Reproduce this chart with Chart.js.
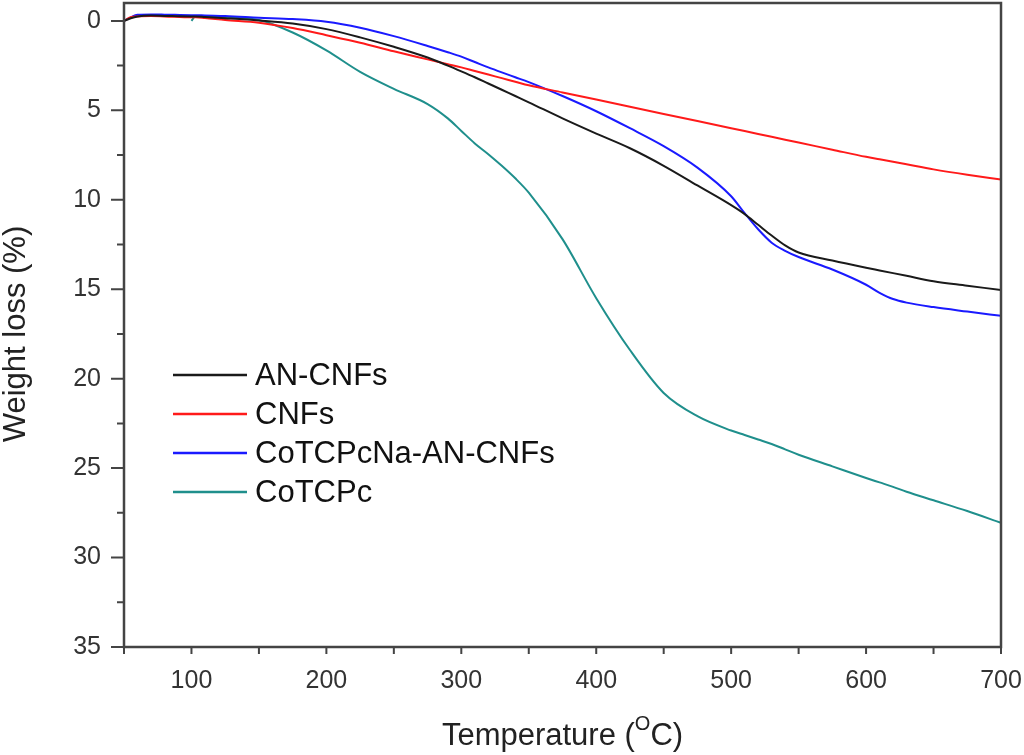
<!DOCTYPE html>
<html lang="en">
<head>
    <meta charset="UTF-8">
    <title>TGA Weight Loss</title>
    <script src="https://cdn.jsdelivr.net/npm/chart.js"></script>
    <style>
        html, body { margin: 0; padding: 0; background: #fff; }
        #wrap { width: 1024px; height: 755px; }
    </style>
</head>
<body>
    <div id="wrap"><canvas id="tga"></canvas></div>

    <script>
        // temperature samples (°C), shared by all curves
        const temps = [50, 55, 60, 70, 80, 100, 103, 110, 125, 150, 175, 200, 225, 250, 275, 290, 300, 310, 320, 330, 340, 350, 375, 400, 425, 450, 475, 500, 510, 520, 530, 540, 550, 575, 600, 610, 620, 630, 650, 675, 700];

        // weight loss (%)
        const anCnfs = [0, -0.15, -0.25, -0.3, -0.28, -0.25, -0.25, -0.22, -0.15, -0.02, 0.15, 0.46, 0.92, 1.45, 2.05, 2.5, 2.82, 3.15, 3.5, 3.85, 4.2, 4.55, 5.45, 6.3, 7.12, 8.1, 9.2, 10.3, 10.8, 11.4, 12.0, 12.55, 12.95, 13.4, 13.8, 13.95, 14.1, 14.25, 14.55, 14.8, 15.05];
        const cnfs = [0, -0.2, -0.25, -0.27, -0.25, -0.2, -0.2, -0.16, -0.05, 0.1, 0.4, 0.8, 1.22, 1.7, 2.15, 2.42, 2.6, 2.8, 3.0, 3.2, 3.4, 3.6, 4.0, 4.4, 4.8, 5.2, 5.6, 6.0, 6.16, 6.32, 6.48, 6.64, 6.8, 7.2, 7.6, 7.74, 7.88, 8.02, 8.3, 8.6, 8.87];
        const coNaAnCnfs = [0, -0.2, -0.34, -0.36, -0.35, -0.32, -0.32, -0.3, -0.27, -0.18, -0.1, 0.05, 0.38, 0.85, 1.4, 1.75, 2.0, 2.3, 2.6, 2.88, 3.15, 3.42, 4.2, 5.05, 6.0, 7.0, 8.2, 9.8, 10.75, 11.65, 12.4, 12.85, 13.2, 13.9, 14.75, 15.2, 15.55, 15.75, 16.0, 16.25, 16.49];
        const coTcpc = [null, null, null, null, null, 0, -0.26, -0.25, -0.2, -0.05, 0.65, 1.65, 2.85, 3.8, 4.65, 5.45, 6.15, 6.85, 7.45, 8.1, 8.8, 9.6, 12.2, 15.5, 18.4, 20.8, 22.1, 22.9, 23.15, 23.4, 23.65, 23.95, 24.25, 24.9, 25.55, 25.8, 26.05, 26.32, 26.8, 27.4, 28.06];

        const seriesNames = ['AN-CNFs', 'CNFs', 'CoTCPcNa-AN-CNFs', 'CoTCPc'];
        const seriesColors = ['#1a1a1a', '#ff1a1a', '#1a1aff', '#1f8f8c'];

        // axis ticks
        const xTicks = [50, 100, 150, 200, 250, 300, 350, 400, 450, 500, 550, 600, 650, 700];
        const yTicks = [0, 2.5, 5, 7.5, 10, 12.5, 15, 17.5, 20, 22.5, 25, 27.5, 30, 32.5, 35];

        const FONT = '"Liberation Sans", Arial, sans-serif';
        const AXIS = '#444';

        function toPoints(vals) {
            return temps.map((t, i) => ({ x: t, y: vals[i] }));
        }

        const allSeries = [anCnfs, cnfs, coNaAnCnfs, coTcpc];
        const datasets = allSeries.map((vals, i) => ({
            label: seriesNames[i],
            data: toPoints(vals),
            borderColor: seriesColors[i],
            borderWidth: 2,
            pointRadius: 0,
            cubicInterpolationMode: 'monotone',
            spanGaps: false
        }));

        // frame, tick marks, axis titles and legend
        const decorations = {
            id: 'decorations',
            afterDraw(chart) {
                const { ctx, chartArea: a } = chart;
                const xs = chart.scales.x, ys = chart.scales.y;
                ctx.save();

                ctx.strokeStyle = AXIS;
                ctx.lineWidth = 2;
                ctx.beginPath();
                xTicks.forEach(v => {
                    const px = xs.getPixelForValue(v);
                    ctx.moveTo(px, a.bottom);
                    ctx.lineTo(px, a.bottom + 7);
                });
                yTicks.forEach(v => {
                    const py = ys.getPixelForValue(v);
                    const len = v % 5 === 0 ? 13 : 7;
                    ctx.moveTo(a.left, py);
                    ctx.lineTo(a.left - len, py);
                });
                ctx.stroke();

                ctx.lineWidth = 2.5;
                ctx.strokeRect(a.left, a.top, a.right - a.left, a.bottom - a.top);

                // x title with superscript O
                ctx.fillStyle = '#222';
                ctx.textBaseline = 'alphabetic';
                ctx.textAlign = 'left';
                const big = '31px ' + FONT, small = '20px ' + FONT;
                const p1 = 'Temperature (', p2 = 'O', p3 = 'C)';
                ctx.font = big;
                const w1 = ctx.measureText(p1).width, w3 = ctx.measureText(p3).width;
                ctx.font = small;
                const w2 = ctx.measureText(p2).width;
                const x0 = (a.left + a.right) / 2 - (w1 + w2 + w3) / 2;
                const base = 745;
                ctx.font = big;
                ctx.fillText(p1, x0, base);
                ctx.font = small;
                ctx.fillText(p2, x0 + w1, base - 15);
                ctx.font = big;
                ctx.fillText(p3, x0 + w1 + w2, base);

                // y title
                ctx.save();
                ctx.translate(25, 334);
                ctx.rotate(-Math.PI / 2);
                ctx.textAlign = 'center';
                ctx.font = '31px ' + FONT;
                ctx.fillText('Weight loss (%)', 0, 0);
                ctx.restore();

                // legend inside the plot
                ctx.font = '31px ' + FONT;
                ctx.textBaseline = 'middle';
                ctx.textAlign = 'left';
                chart.data.datasets.forEach((ds, i) => {
                    const y = 375 + i * 39;
                    ctx.strokeStyle = ds.borderColor;
                    ctx.lineWidth = 2.5;
                    ctx.beginPath();
                    ctx.moveTo(173, y);
                    ctx.lineTo(247, y);
                    ctx.stroke();
                    ctx.fillStyle = '#111';
                    ctx.fillText(ds.label, 255, y + 1);
                });

                ctx.restore();
            }
        };

        // tick marks are drawn by the plugin; the invisible tick length only offsets the labels
        const hiddenGrid = len => ({
            display: true,
            drawOnChartArea: false,
            drawTicks: true,
            tickLength: len,
            tickColor: 'rgba(0,0,0,0)'
        });

        new Chart(document.getElementById('tga'), {
            type: 'line',
            data: { datasets: datasets },
            plugins: [decorations],
            options: {
                responsive: true,
                maintainAspectRatio: false,
                animation: false,
                layout: { padding: { top: 3, right: 23, left: 0, bottom: 0 } },
                plugins: {
                    legend: { display: false },
                    tooltip: { enabled: false }
                },
                scales: {
                    x: {
                        type: 'linear',
                        min: 50,
                        max: 700,
                        grid: hiddenGrid(19),
                        border: { display: false },
                        afterBuildTicks: s => { s.ticks = xTicks.map(v => ({ value: v })); },
                        afterFit: s => { s.height = 108; },
                        ticks: {
                            padding: 0,
                            maxRotation: 0,
                            autoSkip: false,
                            color: '#333',
                            font: { family: FONT, size: 25 },
                            callback: v => (v % 100 === 0 ? v : '')
                        }
                    },
                    y: {
                        type: 'linear',
                        reverse: true,
                        min: -1,
                        max: 35,
                        grid: hiddenGrid(23),
                        border: { display: false },
                        afterBuildTicks: s => { s.ticks = yTicks.map(v => ({ value: v })); },
                        afterFit: s => { s.width = 124; },
                        ticks: {
                            padding: 0,
                            autoSkip: false,
                            color: '#333',
                            font: { family: FONT, size: 25, lineHeight: 0.2 },
                            callback: v => (v % 5 === 0 ? v : '')
                        }
                    }
                }
            }
        });
    </script>
</body>
</html>
